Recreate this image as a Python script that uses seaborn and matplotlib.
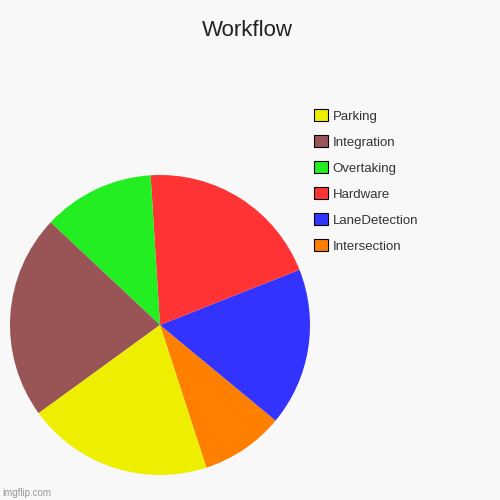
import matplotlib
matplotlib.use("Agg")
import matplotlib.pyplot as plt
import matplotlib.patches as mpatches
import seaborn as sns

## DATOS ##
labels = ["Intersection", "LaneDetection", "Hardware", "Overtaking", "Integration", "Parking"]
values = [9, 17, 20, 12, 22, 20]
colors = sns.color_palette(["#ff8000", "#3333ff", "#ff3333", "#22ee22", "#995555", "#eeee00"])

sns.set_style("white")
plt.rcParams["font.family"] = ["Arial", "Liberation Sans", "DejaVu Sans"]

fig = plt.figure(figsize=(5, 5), dpi=100, facecolor="#f8f8f8")
ax = fig.add_axes([0.02, 0.05, 0.6, 0.6])
ax.set_facecolor("#f8f8f8")
ax.pie(values, colors=colors, startangle=288, counterclock=True, radius=1,
       wedgeprops=dict(linewidth=0))
ax.set_xlim(-1, 1)
ax.set_ylim(-1, 1)
ax.set_aspect("equal")
ax.axis("off")

fig.text(0.494, 0.94, "Workflow", ha="center", va="center", fontsize=16, color="#222222")

# leyenda en orden inverso (Parking arriba)
handles = [mpatches.Patch(facecolor=c, edgecolor="black", linewidth=0.8, label=l)
           for l, c in zip(labels, colors)]
fig.legend(handles=handles[::-1], loc="upper left", bbox_to_anchor=(0.605, 0.805),
           frameon=False, fontsize=9.5, handlelength=1.0, handleheight=1.0,
           labelspacing=0.95, handletextpad=0.4, labelcolor="#333333")

fig.text(0.005, 0.005, "imgflip.com", fontsize=7, color="#999999", ha="left", va="bottom")

fig.savefig("out.png", dpi=100, facecolor=fig.get_facecolor())
